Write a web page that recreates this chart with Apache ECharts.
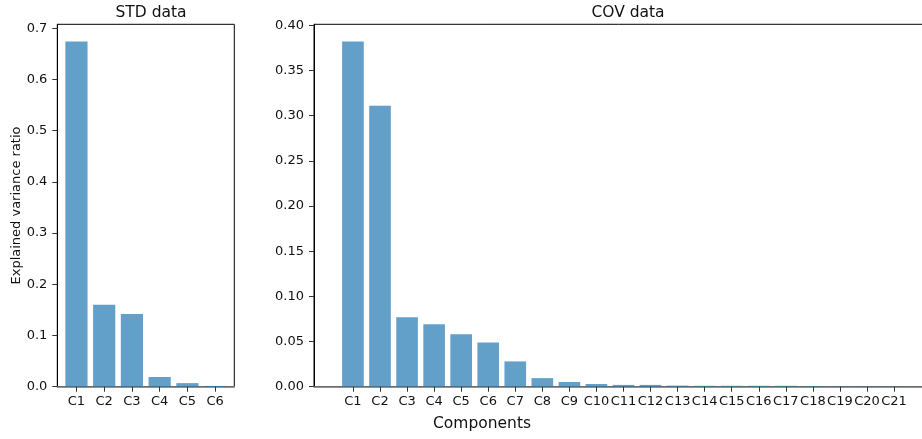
<!DOCTYPE html>
<html>
<head>
<meta charset="utf-8">
<script src="https://cdn.jsdelivr.net/npm/echarts@6/dist/echarts.min.js"></script>
<style>
html,body{margin:0;padding:0;background:#fff;}
#chart{width:922px;height:439px;}
</style>
</head>
<body>
<div id="chart"></div>
<script>
const stdCategories = ['C1','C2','C3','C4','C5','C6'];
const stdValues = [0.674, 0.160, 0.142, 0.019, 0.007, 0.0015];
const covCategories = ['C1','C2','C3','C4','C5','C6','C7','C8','C9','C10','C11','C12','C13','C14','C15','C16','C17','C18','C19','C20','C21'];
const covValues = [0.382, 0.311, 0.077, 0.069, 0.058, 0.049, 0.028, 0.0095, 0.0052, 0.003, 0.002, 0.002, 0.0012, 0.001, 0.001, 0.001, 0.001, 0.0006, 0.0005, 0.0005, 0.0004];
const stdYTicks = [0, 0.1, 0.2, 0.3, 0.4, 0.5, 0.6, 0.7];
const covYTicks = [0, 0.05, 0.10, 0.15, 0.20, 0.25, 0.30, 0.35, 0.40];
const titles = ['STD data', 'COV data'];
const yAxisTitle = 'Explained variance ratio';
const xAxisTitle = 'Components';

const FONT = 'DejaVu Sans';
const TXT = '#111';
const chart = echarts.init(document.getElementById('chart'), null, {renderer: 'canvas'});

function xAxisFor(cats, gridIndex, min, max) {
  const idx = cats.map((c, i) => i);
  return {
    type: 'value', gridIndex, min, max,
    splitLine: {show: false},
    axisLine: {show: true, onZero: false, lineStyle: {color: '#808080', width: 1.5}},
    axisTick: {show: true, customValues: idx, length: 5, lineStyle: {color: '#333', width: 1}},
    axisLabel: {customValues: idx, formatter: v => cats[Math.round(v)] || '', fontFamily: FONT, fontSize: 13, color: TXT, margin: 8}
  };
}
function yAxisFor(ticks, gridIndex, max, dec, withName) {
  const a = {
    type: 'value', gridIndex, min: 0, max,
    splitLine: {show: false},
    axisLine: {show: true, onZero: false, lineStyle: {color: '#000', width: 1}},
    axisTick: {show: true, customValues: ticks, length: 5, lineStyle: {color: '#333', width: 1}},
    axisLabel: {customValues: ticks, formatter: v => v.toFixed(dec), fontFamily: FONT, fontSize: 13, color: TXT, margin: 10}
  };
  if (withName) {
    a.name = yAxisTitle;
    a.nameLocation = 'middle';
    a.nameGap = 34;
    a.nameTextStyle = {fontFamily: FONT, fontSize: 13, color: TXT};
  }
  return a;
}

const option = {
  backgroundColor: '#fff',
  animation: false,
  title: [
    {text: titles[0], left: 146, top: 0, textAlign: 'center', textStyle: {fontFamily: FONT, fontSize: 15.5, fontWeight: 'normal', color: TXT}},
    {text: titles[1], left: 623, top: 0, textAlign: 'center', textStyle: {fontFamily: FONT, fontSize: 15.5, fontWeight: 'normal', color: TXT}}
  ],
  grid: [
    {left: 57.3, top: 24.3, width: 177, height: 362.4, show: true, borderColor: '#000', borderWidth: 1, backgroundColor: 'transparent', containLabel: false, outerBoundsMode: 'none'},
    {left: 314, top: 24.3, width: 619, height: 362.4, show: true, borderColor: '#000', borderWidth: 1, backgroundColor: 'transparent', containLabel: false, outerBoundsMode: 'none'}
  ],
  xAxis: [
    xAxisFor(stdCategories, 0, -0.69, 5.69),
    xAxisFor(covCategories, 1, -1.44, 21.44)
  ],
  yAxis: [
    yAxisFor(stdYTicks, 0, 0.7077, 1, true),
    yAxisFor(covYTicks, 1, 0.4011, 2, false)
  ],
  series: [
    {type: 'bar', xAxisIndex: 0, yAxisIndex: 0, barWidth: '80%',
     itemStyle: {color: '#1f77b4', opacity: 0.7},
     data: stdValues.map((v, i) => [i, v])},
    {type: 'bar', xAxisIndex: 1, yAxisIndex: 1, barWidth: '80%',
     itemStyle: {color: '#1f77b4', opacity: 0.7},
     data: covValues.map((v, i) => [i, v])}
  ],
  graphic: [
    {type: 'text', left: 481 - 48, top: 416,
     style: {text: xAxisTitle, font: '15.5px "DejaVu Sans"', fill: TXT}}
  ]
};
chart.setOption(option);
</script>
</body>
</html>
